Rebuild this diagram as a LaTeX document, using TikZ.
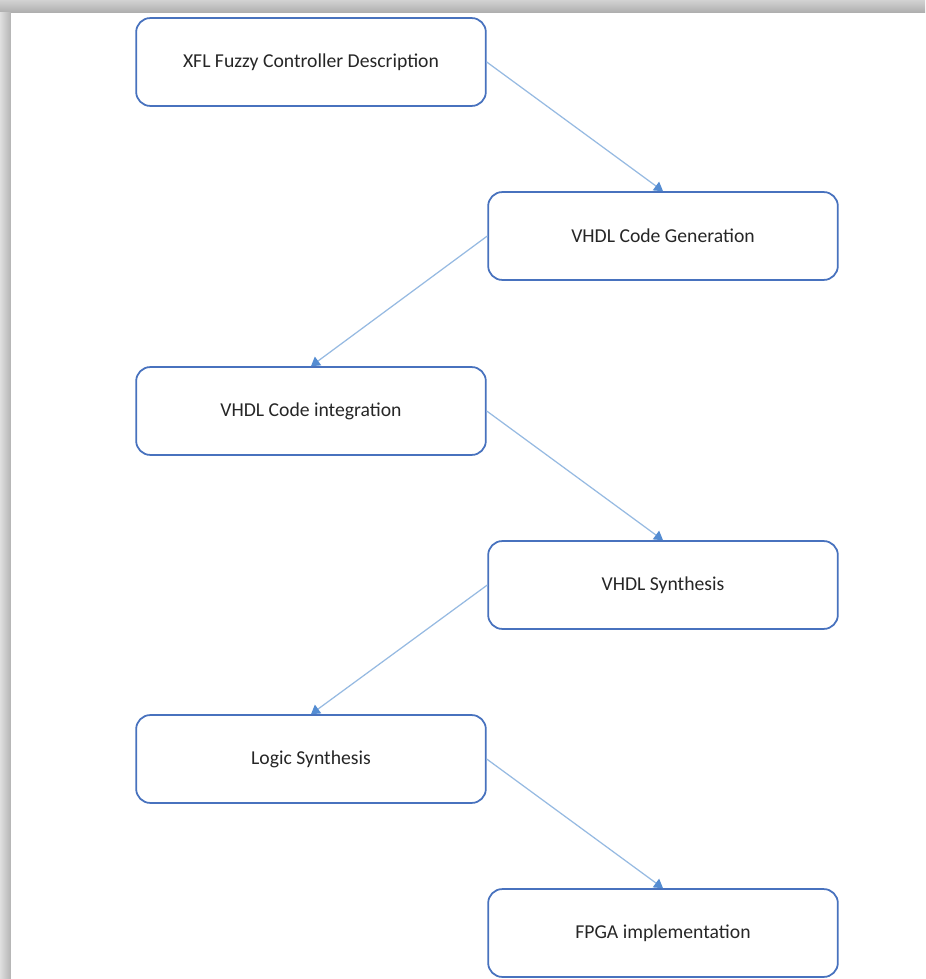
\documentclass[tikz,border=0pt]{standalone}
\usepackage{fontspec}
\setmainfont{Carlito}
\usetikzlibrary{arrows.meta}

\definecolor{boxblue}{RGB}{72,114,190}
\definecolor{linkblue}{RGB}{150,186,226}
\definecolor{tipblue}{RGB}{84,140,210}

\begin{document}
\begin{tikzpicture}[x=0.02cm, y=-0.02cm,
    stagebox/.style={draw=boxblue, line width=1pt, rounded corners=8pt, fill=white,
        minimum width=199pt, minimum height=50pt, font=\fontsize{11.2pt}{13pt}\selectfont, text=black!85},
    link/.style={draw=linkblue, line width=0.7pt, -{Triangle[width=6pt, length=5pt, color=tipblue, fill=tipblue]}}]
    \useasboundingbox (0,0) rectangle (925,979);

    % page shadow
    \shade[top color=gray!35, bottom color=gray!65] (0,0) rectangle (925,13);
    \shade[left color=gray!25, right color=gray!60] (0,13) rectangle (11,979);
    \fill[white] (11,13) rectangle (925,979);

    % Design flow stages
    \node[stagebox] (XFL) at (311,62) {XFL Fuzzy Controller Description};
    \node[stagebox] (GEN) at (663,236) {VHDL Code Generation};
    \node[stagebox] (INT) at (311,411) {VHDL Code integration};
    \node[stagebox] (SYN) at (663,585) {VHDL Synthesis};
    \node[stagebox] (LOG) at (311,759) {Logic Synthesis};
    \node[stagebox] (FPGA) at (663,933) {FPGA implementation};

    % Zig-zag links
    \draw[link] (XFL.east) -- (GEN.north);
    \draw[link] (GEN.west) -- (INT.north);
    \draw[link] (INT.east) -- (SYN.north);
    \draw[link] (SYN.west) -- (LOG.north);
    \draw[link] (LOG.east) -- (FPGA.north);
\end{tikzpicture}
\end{document}
